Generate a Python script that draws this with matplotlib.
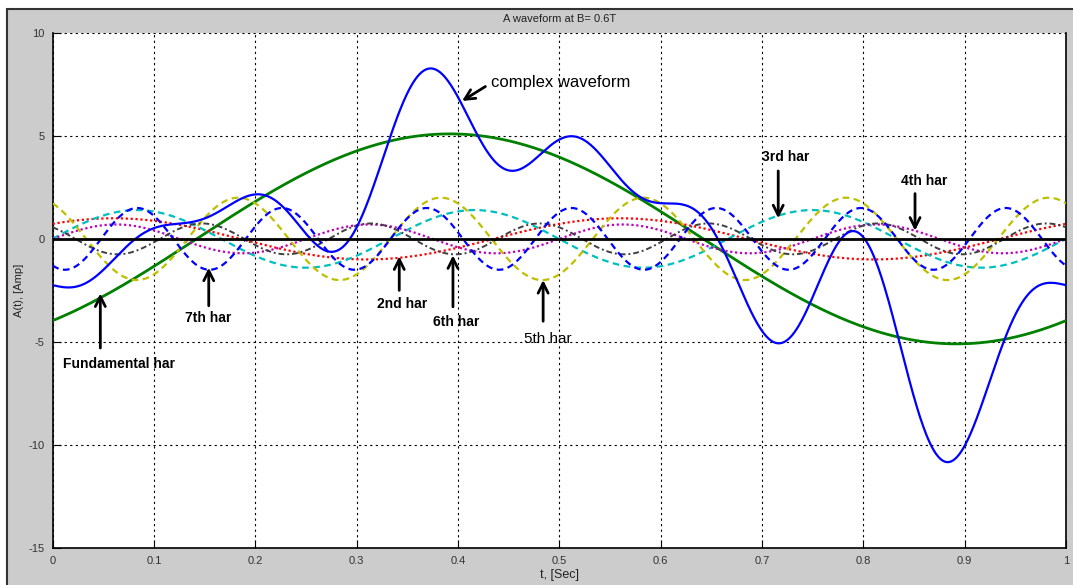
import numpy as np
import matplotlib
matplotlib.use("Agg")
import matplotlib.pyplot as plt
from matplotlib.patches import Rectangle

# ---- data (harmonic amplitude and time of a positive peak) ----
harmonic_order = [1, 2, 3, 4, 5, 6, 7]
harmonic_amp = [5.1, 1.0, 1.4, 0.7, 2.0, 0.75, 1.5]
harmonic_peak_t = [0.392, 0.06, 0.083, 0.0625, -0.017, -0.0193, 0.0834]
harmonic_color = ['#008000', '#ff0000', '#00bfbf', '#bf00bf', '#bfbf00', '#404040', '#0000ff']
harmonic_style = ['-', (0, (1, 1.2)), (0, (3, 2)), (0, (1, 1.2)), (0, (3, 2)), (0, (3, 1.5, 1, 1.5)), (0, (3, 2))]
harmonic_lw = [2.0, 1.6, 1.6, 1.6, 1.6, 1.4, 1.6]

x_ticks = [0, 0.1, 0.2, 0.3, 0.4, 0.5, 0.6, 0.7, 0.8, 0.9, 1]
x_ticklabels = ['0', '0.1', '0.2', '0.3', '0.4', '0.5', '0.6', '0.7', '0.8', '0.9', '1']
y_ticks = [-15, -10, -5, 0, 5, 10]

# annotations: label, text position, arrow tail, arrow head, bold, fontsize
notes = [
    ('complex waveform', (0.433, 7.6), (0.427, 7.4), (0.404, 6.7), False, 12),
    ('3rd har', (0.70, 4.0), (0.716, 3.3), (0.716, 1.0), True, 10),
    ('4th har', (0.837, 2.8), (0.851, 2.2), (0.851, 0.4), True, 10),
    ('Fundamental har', (0.010, -6.07), (0.047, -5.3), (0.047, -2.65), True, 10),
    ('7th har', (0.131, -3.85), (0.154, -3.25), (0.154, -1.4), True, 10),
    ('2nd har', (0.320, -3.15), (0.342, -2.5), (0.342, -0.85), True, 10),
    ('6th har', (0.375, -4.05), (0.395, -3.3), (0.395, -0.8), True, 10),
    ('5th har', (0.465, -4.85), (0.484, -4.0), (0.484, -2.0), False, 11),
]

t = np.linspace(0, 1, 1001)

plt.rcParams['font.family'] = ['Liberation Sans', 'DejaVu Sans']
plt.rcParams['axes.unicode_minus'] = False
fig = plt.figure(figsize=(10.73, 5.85), dpi=100, facecolor='white')
bg = Rectangle((7 / 1073, -0.01), 1.0, 1 - 9 / 585 + 0.01, transform=fig.transFigure,
               facecolor='#cccccc', edgecolor='#333333', lw=1.5, zorder=-10)
fig.patches.append(bg)

ax = fig.add_axes([52.7 / 1073, 1 - 547.7 / 585, (1066 - 52.7) / 1073, (547.7 - 33) / 585])
ax.set_zorder(1)
ax.set_facecolor('white')

waves = []
for n, a, tp, c, ls, lw in zip(harmonic_order, harmonic_amp, harmonic_peak_t,
                               harmonic_color, harmonic_style, harmonic_lw):
    y = a * np.cos(2 * np.pi * n * (t - tp))
    waves.append(y)
    ax.plot(t, y, color=c, linestyle=ls, lw=lw, zorder=3)

ax.plot(t, np.sum(waves, axis=0), color='#0000ff', lw=1.6, zorder=4)
ax.axhline(0, color='black', lw=2, zorder=5)

for label, txy, tail, head, bold, fs in notes:
    ax.annotate('', xy=head, xytext=tail,
                arrowprops=dict(arrowstyle='->', lw=2, color='black', mutation_scale=18,
                                shrinkA=0, shrinkB=0), zorder=6)
    ax.text(txy[0], txy[1], label, fontsize=fs, fontweight='bold' if bold else 'normal',
            va='center', ha='left', color='black', zorder=7)

ax.set_xlim(0, 1)
ax.set_ylim(-15, 10)
ax.set_xticks(x_ticks)
ax.set_xticklabels(x_ticklabels)
ax.set_yticks(y_ticks)
ax.tick_params(direction='in', length=6, labelsize=8, labelcolor='#333333', pad=6)
ax.grid(True, color='black', linestyle=(0, (2, 3)), lw=0.8)
ax.spines['top'].set_visible(False)
for s in ['left', 'bottom', 'right']:
    ax.spines[s].set_linewidth(1.2)

ax.set_title('A waveform at B= 0.6T', fontsize=8, color='#222222', pad=8)
ax.set_xlabel('t, [Sec]', fontsize=9, color='#222222', labelpad=2)
ax.set_ylabel('A(t), [Amp]', fontsize=8, color='#222222')
ax.yaxis.set_label_coords(-0.028, 0.5)

fig.savefig('out.png', dpi=100, facecolor=fig.get_facecolor())
